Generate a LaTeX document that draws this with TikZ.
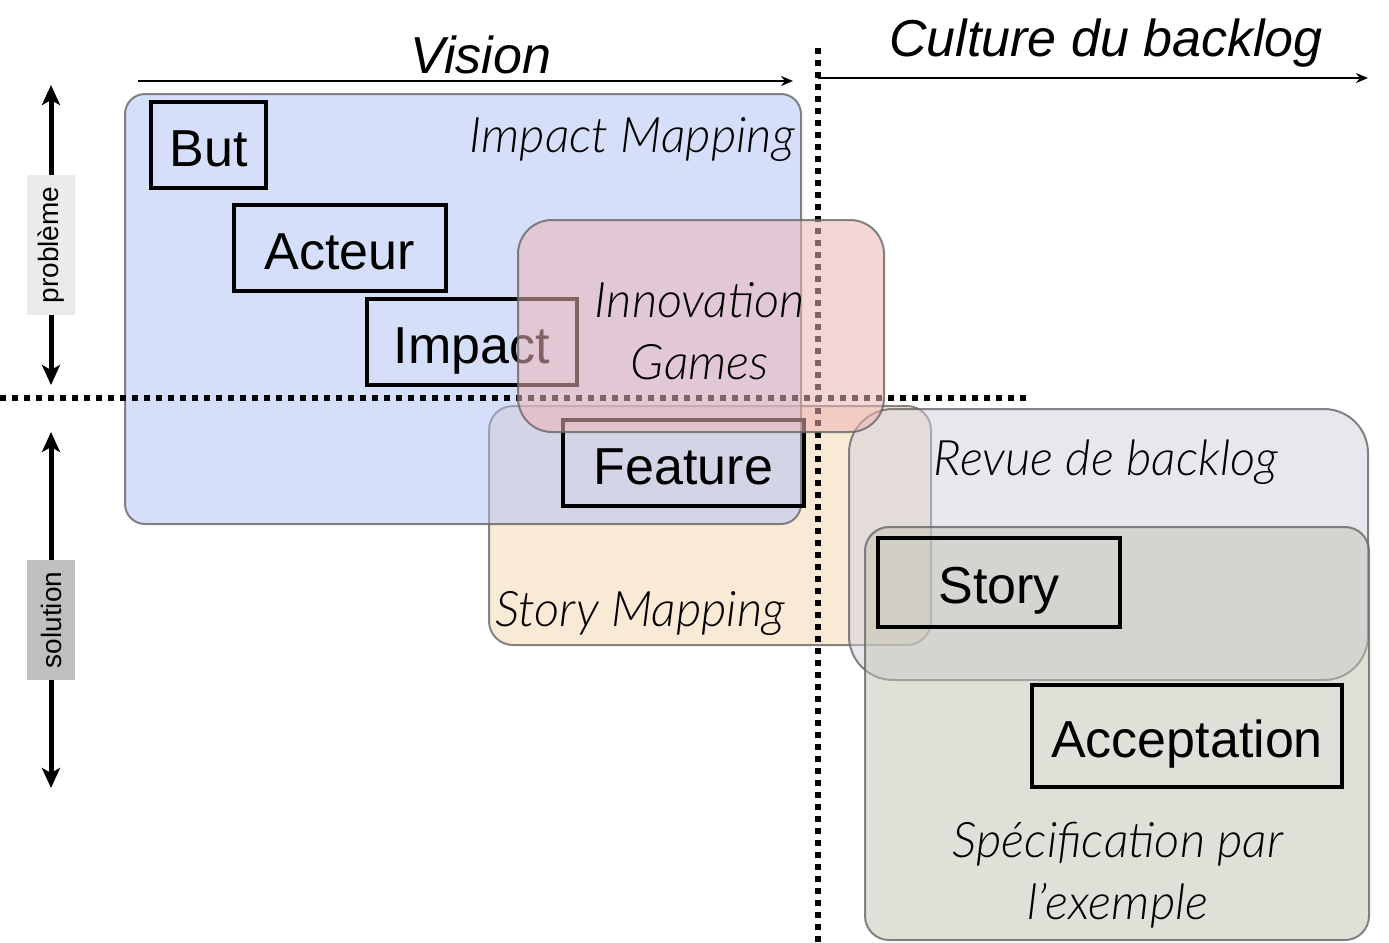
\documentclass[tikz,border=0pt]{standalone}
\usepackage{fontspec}
\setmainfont{Liberation Sans}
\newfontfamily\zonefont{Lato}[UprightFont=* Light, ItalicFont=* Light Italic]
\usepackage{xcolor}
\usetikzlibrary{arrows.meta}

\definecolor{zblue}{RGB}{173,191,245}
\definecolor{zpink}{RGB}{237,180,180}
\definecolor{zorange}{RGB}{243,213,173}
\definecolor{zrevue}{RGB}{207,207,219}
\definecolor{zspec}{RGB}{194,194,180}

\begin{document}
\begin{tikzpicture}[x=0.5pt,y=-0.5pt,
			zone/.style={rectangle, draw=black!60, draw opacity=0.8, line width=1pt, fill opacity=0.5, inner sep=0pt},
			item/.style={rectangle, draw, line width=2pt, inner sep=0pt, text height=21pt, text depth=0pt, font=\fontsize{26}{30}\selectfont},
			zonelab/.style={font=\zonefont\itshape\fontsize{24.5}{31}\selectfont, align=center, inner sep=0pt},
			axislab/.style={font=\itshape\fontsize{26}{30}\selectfont, inner sep=0pt},
			sidelab/.style={rectangle, rotate=90, inner sep=0pt, minimum height=24pt, font=\fontsize{14}{16}\selectfont},
			sepline/.style={line width=3pt, dash pattern=on 3pt off 3pt},
			axisarrow/.style={line width=1pt, -{Stealth[length=6pt,width=5pt]}},
			sidearrow/.style={line width=2.5pt, -{Stealth[length=10pt,width=9pt,inset=2.5pt]}}
				]
			\useasboundingbox (0,0) rectangle (1389,943);

			%zones
			\node[zone, fill=zorange, rounded corners=12pt, minimum width=221pt, minimum height=119.5pt] (storymap) at (710,525.5) {};
			\node[zone, fill=zblue, rounded corners=10pt, minimum width=338pt, minimum height=215pt] (impmap) at (463,309) {};
			\node[zone, fill=zrevue, rounded corners=22pt, minimum width=259.5pt, minimum height=135.5pt] (revue) at (1108.5,544.5) {};
			\node[zone, fill=zspec, rounded corners=12pt, minimum width=252pt, minimum height=206.5pt] (spec) at (1117,733.5) {};

			%separators
			\coordinate (vtop) at (818,48);
			\coordinate (vbot) at (818,943);
			\coordinate (hleft) at (0,398);
			\coordinate (hright) at (1030,398);
			\draw[sepline] (vtop) -- (vbot);
			\draw[sepline] (hleft) -- (hright);

			%axes
			\coordinate (vis0) at (138,81);
			\coordinate (vis1) at (793,81);
			\coordinate (cul0) at (818,78);
			\coordinate (cul1) at (1368,78);
			\draw[axisarrow] (vis0) -- (vis1);
			\draw[axisarrow] (cul0) -- (cul1);
			\node[axislab] (vision) at (481,55) {Vision};
			\node[axislab] (culture) at (1106,43) {Culture du backlog};

			\coordinate (pbtop) at (51,85);
			\coordinate (pbbot) at (51,385);
			\coordinate (sltop) at (51,432);
			\coordinate (slbot) at (51,788);
			\node[sidelab, fill=black!8, minimum width=70pt] (prob) at (51,245) {problème};
			\node[sidelab, fill=black!25, minimum width=60pt] (sol) at (51,620) {solution};
			\draw[sidearrow] (prob) -- (pbtop);
			\draw[sidearrow] (prob) -- (pbbot);
			\draw[sidearrow] (sol) -- (sltop);
			\draw[sidearrow] (sol) -- (slbot);

			%items
			\node[item, minimum width=57.5pt, minimum height=43pt] (but) at (208.5,145) {But};
			\node[item, minimum width=106pt, minimum height=43pt] (acteur) at (340,248) {Acteur};
			\node[item, minimum width=105pt, minimum height=43pt] (impact) at (472,342) {Impact};
			\node[item, minimum width=120.5pt, minimum height=43pt] (feature) at (683.5,463) {Feature};
			\node[item, minimum width=121pt, minimum height=44.5pt] (story) at (999,582.5) {Story};
			\node[item, minimum width=155pt, minimum height=51pt] (accept) at (1187,736) {Acceptation};

			%zone labels
			\node[zonelab, anchor=east] (imlab) at (795,140) {Impact Mapping};
			\node[zonelab] (smlab) at (640,613) {Story Mapping};
			\node[zonelab] (rblab) at (1106,462) {Revue de backlog};
			\node[zonelab] (splab) at (1118,875) {Spécification par\\l’exemple};

			\node[zone, fill=zpink, fill opacity=0.55, rounded corners=17pt, minimum width=183pt, minimum height=106pt] (innov) at (701,326) {};
			\node[zonelab] (iglab) at (700,331) {Innovation\\Games};
	\end{tikzpicture}
\end{document}
